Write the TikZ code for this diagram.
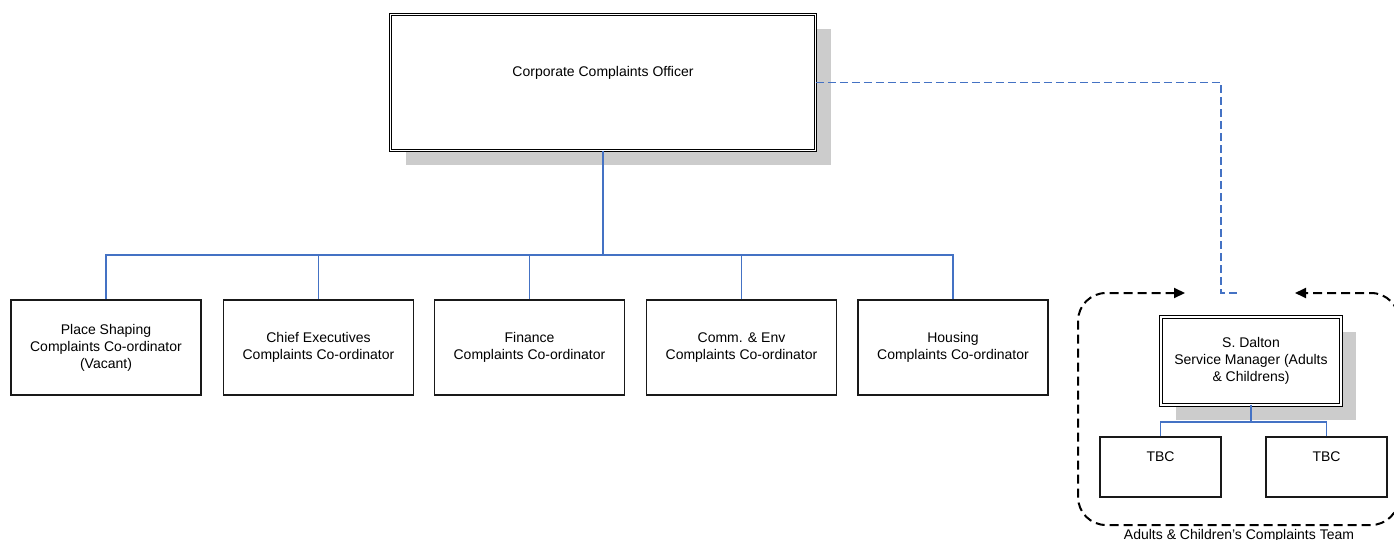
\documentclass[tikz,border=0pt]{standalone}
\usepackage{fontspec}
\setmainfont{Liberation Sans}
\usetikzlibrary{arrows.meta,shadows}
\definecolor{connblue}{HTML}{4472C4}
\definecolor{shadowgray}{HTML}{CCCCCC}
\tikzset{
  txt/.style={font=\fontsize{14}{17}\selectfont, align=center, inner sep=0pt},
  childbox/.style={draw=black!90, line width=1.2pt, fill=white, minimum width=190pt, minimum height=95pt, inner sep=0pt, txt},
  tbcbox/.style={draw=black!90, line width=1.2pt, fill=white, minimum width=121pt, minimum height=60pt, inner sep=0pt},
  dblbox/.style={draw=black, line width=0.9pt, double=white, double distance=1.7pt, fill=white, inner sep=0pt,
    drop shadow={shadow xshift=15pt, shadow yshift=-15pt, fill=shadowgray, opacity=1}},
  conn/.style={draw=connblue, line width=1.1pt},
  bluedash/.style={draw=connblue, line width=1.8pt, dash pattern=on 8pt off 4pt},
  groupframe/.style={draw=black, line width=2pt, dash pattern=on 9pt off 5pt, rounded corners=28pt,
    {Triangle[length=11pt,width=10pt]}-{Triangle[length=11pt,width=10pt]}},
}
\begin{document}
\begin{tikzpicture}[x=1pt,y=-1pt]
\useasboundingbox[fill=white] (0,0) rectangle (1394,540);

% top box
\node[dblbox, minimum width=425pt, minimum height=136pt] (top) at (603,82.5) {};
\node[txt] (toptext) at (603,73) {Corporate Complaints Officer};

% children
\node[childbox] (c1) at (106,347.5) {Place Shaping\\Complaints Co-ordinator\\(Vacant)};
\node[childbox] (c2) at (318.5,347.5) {Chief Executives\\Complaints Co-ordinator};
\node[childbox] (c3) at (529.5,347.5) {Finance\\Complaints Co-ordinator};
\node[childbox] (c4) at (741.5,347.5) {Comm. \& Env\\Complaints Co-ordinator};
\node[childbox] (c5) at (953,347.5) {Housing\\Complaints Co-ordinator};

\coordinate (bus) at (603,255);
\draw[conn] (top.south) -- (bus);
\foreach \c in {c1,c2,c3,c4,c5}{
  \draw[conn] (\c.north) |- (bus);
}

% group frame
\coordinate (arrL) at (1185,293);
\coordinate (arrR) at (1295,293);
\coordinate (gTL) at (1078,293);
\coordinate (gBL) at (1078,525);
\coordinate (gBR) at (1399,525);
\coordinate (gTR) at (1399,293);
\draw[groupframe] (arrL) -- (gTL) -- (gBL) -- (gBR) -- (gTR) -- (arrR);

% blue dashed link
\coordinate (dcorner) at (1221,293);
\coordinate (dend) at (1240,293);
\draw[bluedash] (top.east) -| (dcorner) -- (dend);

% S. Dalton
\node[dblbox, minimum width=180pt, minimum height=88pt, txt] (sd) at (1251,361)
  {S. Dalton\\Service Manager (Adults\\\& Childrens)};

\node[tbcbox] (t1) at (1160.5,467) {};
\node[tbcbox] (t2) at (1326.5,467) {};
\node[txt] (t1text) at (1160.5,457) {TBC};
\node[txt] (t2text) at (1326.5,457) {TBC};

\coordinate (sdbus) at (1251,422);
\draw[conn] (sd.south) -- (sdbus);
\draw[conn] (t1.north) |- (sdbus);
\draw[conn] (t2.north) |- (sdbus);

\node[txt, anchor=north] (glabel) at (1239,529) {Adults \& Children’s Complaints Team};
\end{tikzpicture}
\end{document}
